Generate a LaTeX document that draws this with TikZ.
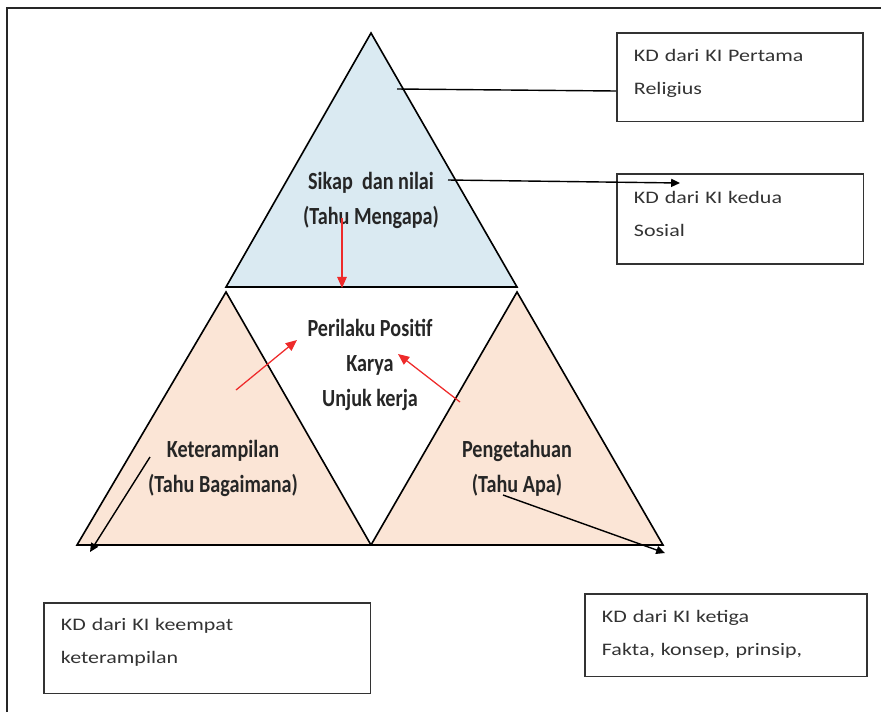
\documentclass[tikz,border=0pt]{standalone}
\usepackage{fontspec}
\setmainfont{Carlito}
\newfontfamily\trifont[FakeStretch=0.82]{Carlito}
\newfontfamily\kdfont[FakeStretch=1.25]{Carlito}
\usepackage{xcolor}
\usetikzlibrary{arrows.meta}
\definecolor{sikapblue}{HTML}{DAEAF2}
\definecolor{skillpeach}{HTML}{FBE5D6}
\definecolor{arrowred}{HTML}{EE2A2A}
\newcommand\kdlow[1]{\rule[-#1]{0pt}{#1}}

\begin{document}
\begin{tikzpicture}[
    x=0.025cm, y=-0.025cm,
    tri/.style={draw=black, line width=1.15pt, line join=miter},
    tritext/.style={font=\trifont\bfseries\fontsize{17.5}{24.9}\selectfont, align=center, text=black!85, inner sep=0pt},
    kdbox/.style={draw=black!80, line width=1.1pt, anchor=north west, align=left, text=black!80, inner xsep=0.43cm, inner ysep=0pt, text width=#1, font=\kdfont\fontsize{12.5}{23.4}\selectfont},
    redarrow/.style={draw=arrowred, line width=0.9pt, -{Triangle[length=2.8mm,width=2.4mm]}},
    blackarrow/.style={draw=black, line width=1pt, -{Triangle[length=2.2mm,width=2mm]}},
    ]
  \useasboundingbox (0,0) rectangle (881,712);
  % bingkai
  \draw[line width=1.2pt, black!85] (7,712) -- (7,8) -- (881,8);

  % sudut segitiga
  \coordinate (apex) at (371,33);
  \coordinate (sikapL) at (226,287);
  \coordinate (sikapR) at (517,287);
  \coordinate (ketL) at (77,545);
  \coordinate (ketT) at (226,292);
  \coordinate (mid) at (371,545);
  \coordinate (pengT) at (517,292);
  \coordinate (pengR) at (663,545);

  \filldraw[tri, fill=sikapblue] (apex) -- (sikapR) -- (sikapL) -- cycle;
  \filldraw[tri, fill=skillpeach] (ketT) -- (mid) -- (ketL) -- cycle;
  \filldraw[tri, fill=skillpeach] (pengT) -- (pengR) -- (mid) -- cycle;

  % teks segitiga
  \node[tritext] (sikap) at (371,200) {Sikap\ \ dan nilai\\(Tahu Mengapa)};
  \node[tritext] (perilaku) at (370,365) {Perilaku Positif\\Karya\\Unjuk kerja};
  \node[tritext] (ket) at (223,468) {Keterampilan\\(Tahu Bagaimana)};
  \node[tritext] (peng) at (517,468) {Pengetahuan\\(Tahu Apa)};

  % kotak KD
  \node[kdbox=5.29cm, minimum height=2.22cm] (kdsatu) at (616,32) {KD dari KI Pertama\\Religius\kdlow{7pt}};
  \node[kdbox=5.31cm, minimum height=2.25cm] (kddua) at (616,173) {KD dari KI kedua\\Sosial\kdlow{7pt}};
  \node[kdbox=7.31cm, minimum height=2.27cm] (kdempat) at (43,602) {KD dari KI keempat\\keterampilan\kdlow{11pt}};
  \node[kdbox=6.19cm, minimum height=2.07cm] (kdtiga) at (584,593) {KD dari KI ketiga\\Fakta, konsep, prinsip,\kdlow{3pt}};

  % penghubung
  \coordinate (religius) at (397,89);
  \coordinate (sosial) at (448,180);
  \coordinate (sosialend) at (680,183);
  \draw[line width=1pt] (religius) -- (kdsatu.west |- 0,91);
  \draw[blackarrow] (sosial) -- (sosialend);

  \coordinate (sikapbot) at (342,218);
  \coordinate (sikapbase) at (342,288);
  \coordinate (ketarrow) at (236,390);
  \coordinate (perilakuL) at (297,340);
  \coordinate (pengarrow) at (460,402);
  \coordinate (perilakuR) at (398,354);
  \draw[redarrow] (sikapbot) -- (sikapbase);
  \draw[redarrow] (ketarrow) -- (perilakuL);
  \draw[redarrow] (pengarrow) -- (perilakuR);

  \coordinate (ketline) at (150,457);
  \coordinate (ketend) at (90,552);
  \coordinate (pengline) at (503,495);
  \coordinate (pengend) at (665,553);
  \draw[blackarrow] (ketline) -- (ketend);
  \draw[blackarrow] (pengline) -- (pengend);
\end{tikzpicture}
\end{document}
